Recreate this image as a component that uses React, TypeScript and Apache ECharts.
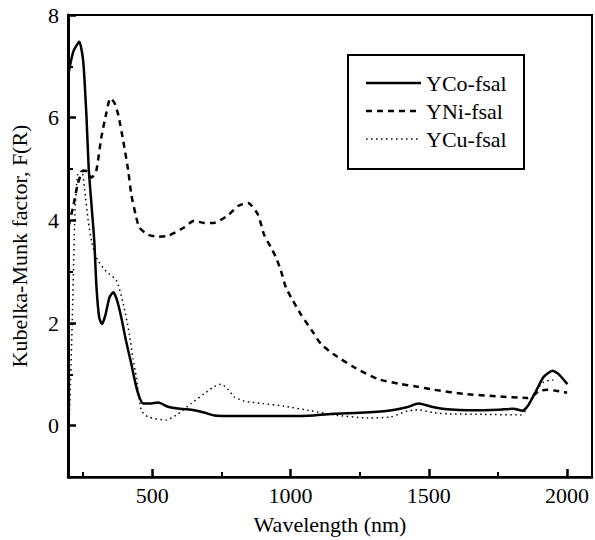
import React, { useEffect, useRef } from "react";
import * as echarts from "echarts";

const coWl = [198, 215, 236, 250, 262, 270, 280, 290, 298, 308, 318, 330, 345, 359, 372, 388, 405, 424, 440, 452, 467, 490, 521, 557, 600, 651, 690, 723, 800, 900, 1000, 1085, 1157, 1250, 1352, 1420, 1463, 1510, 1568, 1650, 1750, 1806, 1839, 1860, 1890, 1915, 1947, 1970, 2001];
const coVal = [6.9, 7.3, 7.48, 7.1, 6.0, 5.0, 4.3, 3.6, 2.7, 2.1, 1.98, 2.15, 2.5, 2.6, 2.45, 2.1, 1.65, 1.2, 0.8, 0.57, 0.43, 0.43, 0.45, 0.37, 0.33, 0.3, 0.25, 0.2, 0.19, 0.19, 0.19, 0.2, 0.23, 0.25, 0.29, 0.36, 0.43, 0.37, 0.32, 0.3, 0.31, 0.33, 0.29, 0.4, 0.7, 0.95, 1.07, 1.0, 0.81];

const niWl = [198, 215, 230, 250, 265, 280, 297, 315, 334, 348, 362, 377, 395, 413, 424, 440, 453, 485, 520, 557, 615, 651, 687, 723, 774, 810, 846, 882, 904, 929, 947, 965, 983, 1008, 1037, 1081, 1110, 1153, 1229, 1315, 1399, 1460, 1518, 1626, 1750, 1857, 1880, 1900, 1929, 1960, 1983, 2000];
const niVal = [3.9, 4.3, 4.7, 4.97, 4.95, 4.83, 4.96, 5.6, 6.1, 6.38, 6.3, 6.05, 5.54, 4.96, 4.5, 4.1, 3.86, 3.72, 3.68, 3.7, 3.86, 3.99, 3.95, 3.95, 4.1, 4.28, 4.34, 4.11, 3.72, 3.47, 3.28, 3.02, 2.69, 2.44, 2.17, 1.82, 1.59, 1.4, 1.14, 0.91, 0.81, 0.76, 0.7, 0.62, 0.57, 0.54, 0.6, 0.68, 0.7, 0.68, 0.66, 0.64];

const cuWl = [200, 205, 212, 220, 230, 245, 255, 268, 280, 292, 305, 334, 370, 395, 417, 430, 442, 460, 485, 550, 593, 640, 687, 720, 749, 775, 796, 832, 900, 976, 1074, 1157, 1280, 1362, 1424, 1446, 1460, 1520, 1568, 1700, 1832, 1850, 1868, 1890, 1915, 1947, 1960];
const cuVal = [0.2, 1.0, 2.4, 4.1, 4.9, 4.96, 4.6, 4.0, 3.6, 3.35, 3.2, 3.0, 2.83, 2.37, 1.78, 1.3, 0.95, 0.3, 0.17, 0.11, 0.23, 0.43, 0.62, 0.75, 0.81, 0.7, 0.56, 0.48, 0.43, 0.38, 0.29, 0.21, 0.15, 0.17, 0.29, 0.3, 0.31, 0.25, 0.23, 0.22, 0.21, 0.3, 0.5, 0.7, 0.85, 0.89, 0.85];

const seriesNames = ["YCo-fsal", "YNi-fsal", "YCu-fsal"];
const xLabelValues = [500, 1000, 1500, 2000];
const xMinorTicks = [250, 750, 1250, 1750];
const yLabelValues = [0, 2, 4, 6, 8];
const yMinorTicks = [1, 3, 5, 7];

const FONT = "Liberation Serif";
const FS = 22;

const zip = (a: number[], b: number[]) => a.map((v, i) => [v, b[i]]);

export default function App() {
  const ref = useRef<HTMLDivElement>(null);
  useEffect(() => {
    if (!ref.current) return;
    const chart = echarts.init(ref.current, null, { renderer: "svg" });
    const xMin = 195;
    const xMax = 2090;
    const yMin = -1;
    const yMax = 8;
    const fmt = (v: number) => String(v);
    const lineStyles = [
      { width: 2.5, type: "solid" as any },
      { width: 2.5, type: [6, 5] as any },
      { width: 1.5, type: [1.5, 3.5] as any },
    ];
    const legendChildren: any[] = [
      { type: "rect", shape: { x: 0, y: 0, width: 176, height: 114 }, style: { fill: "#fff", stroke: "#000", lineWidth: 2 } },
    ];
    seriesNames.forEach((n, i) => {
      legendChildren.push({
        type: "line",
        shape: { x1: 18, y1: 28 + i * 28, x2: 73, y2: 28 + i * 28 },
        style: { stroke: "#000", lineWidth: lineStyles[i].width, lineDash: lineStyles[i].type === "solid" ? null : lineStyles[i].type },
      });
      legendChildren.push({
        type: "text",
        x: 78,
        y: 28 + i * 28,
        style: { text: n, fill: "#000", fontFamily: FONT, fontSize: FS, verticalAlign: "middle", align: "left" },
      });
    });
    chart.setOption({
      animation: false,
      backgroundColor: "#fff",
      grid: {
        left: 67,
        right: 3,
        top: 15,
        bottom: 60,
        show: true,
        borderColor: "#000",
        borderWidth: 2,
        backgroundColor: "transparent",
      },
      graphic: [{ type: "group", left: 347, top: 54, children: legendChildren }],
      xAxis: [
        {
          type: "value",
          min: xMin,
          max: xMax,
          name: "Wavelength (nm)",
          nameLocation: "middle",
          nameGap: 36,
          nameTextStyle: { fontFamily: FONT, fontSize: FS, color: "#000" },
          axisLine: { show: true, onZero: false, lineStyle: { color: "#000", width: 2.5 } },
          axisTick: { show: true, inside: true, length: 8, customValues: xLabelValues, lineStyle: { color: "#000", width: 2.5 } },
          axisLabel: { show: true, customValues: xLabelValues, formatter: fmt, margin: 7, fontFamily: FONT, fontSize: FS, color: "#000" },
          splitLine: { show: false },
        },
        {
          type: "value",
          min: xMin,
          max: xMax,
          position: "bottom",
          axisLine: { show: false, onZero: false },
          axisTick: { show: true, inside: true, length: 5, customValues: xMinorTicks, lineStyle: { color: "#000", width: 2 } },
          axisLabel: { show: false },
          splitLine: { show: false },
        },
      ],
      yAxis: [
        {
          type: "value",
          min: yMin,
          max: yMax,
          name: "Kubelka-Munk factor, F(R)",
          nameLocation: "middle",
          nameGap: 38,
          nameTextStyle: { fontFamily: FONT, fontSize: FS, color: "#000" },
          axisLine: { show: true, onZero: false, lineStyle: { color: "#000", width: 3 } },
          axisTick: { show: true, inside: true, length: 8, customValues: yLabelValues, lineStyle: { color: "#000", width: 2.5 } },
          axisLabel: { show: true, customValues: yLabelValues, formatter: fmt, margin: 9, fontFamily: FONT, fontSize: FS, color: "#000" },
          splitLine: { show: false },
        },
        {
          type: "value",
          min: yMin,
          max: yMax,
          position: "left",
          axisLine: { show: false, onZero: false },
          axisTick: { show: true, inside: true, length: 5, customValues: yMinorTicks, lineStyle: { color: "#000", width: 2 } },
          axisLabel: { show: false },
          splitLine: { show: false },
        },
      ],
      series: seriesNames.map((n, i) => ({
        name: n,
        type: "line",
        data: i === 0 ? zip(coWl, coVal) : i === 1 ? zip(niWl, niVal) : zip(cuWl, cuVal),
        symbol: "none",
        smooth: 0.2,
        color: "#000",
        lineStyle: { color: "#000", width: lineStyles[i].width, type: lineStyles[i].type },
      })),
    });
    return () => chart.dispose();
  }, []);
  return <div ref={ref} style={{ width: 595, height: 540, position: "absolute", left: 0, top: 0 }} />;
}
